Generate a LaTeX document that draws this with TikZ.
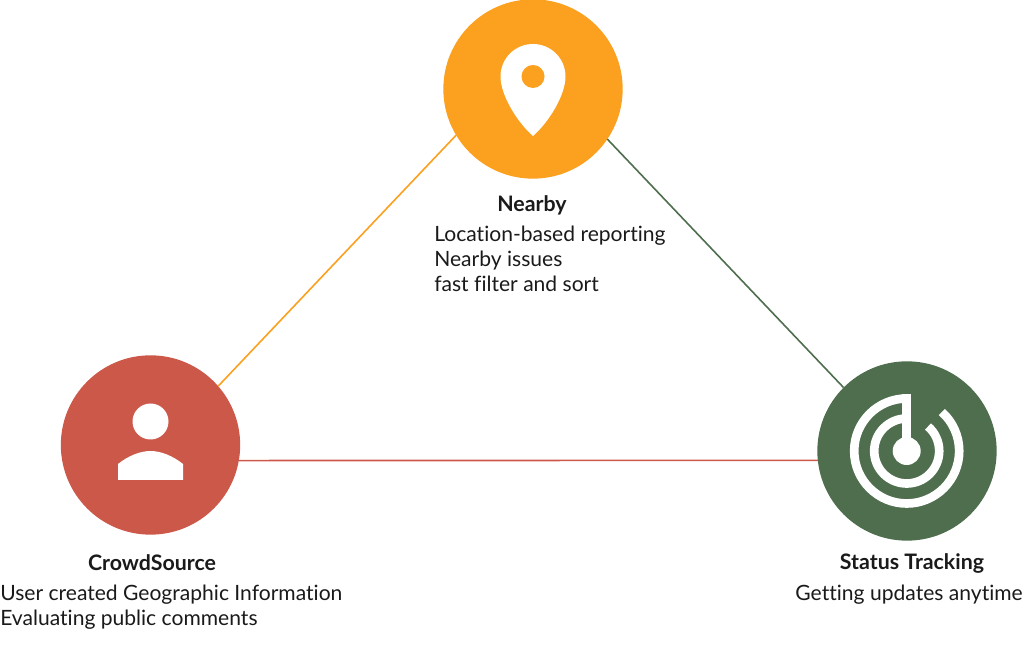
\documentclass[tikz,border=0pt]{standalone}
\usepackage{fontspec}
\setmainfont[Ligatures=NoCommon]{Lato}
\definecolor{pinorange}{HTML}{FBA01F}
\definecolor{crowdred}{HTML}{CC5849}
\definecolor{trackgreen}{HTML}{4E6E4E}
\definecolor{inkblack}{HTML}{1A1A1A}
\tikzset{
	hub/.style={circle,fill=#1,minimum size=134.5pt,inner sep=0pt,outer sep=0pt},
	link/.style={draw=#1,line width=1.2pt},
	title/.style={font=\fontsize{16}{18.75}\selectfont\bfseries,text=inkblack,inner sep=0pt},
	body/.style={font=\fontsize{15.8}{18.75}\selectfont,text=inkblack,inner sep=0pt,align=left},
	ring/.style={draw=white,line width=6.5pt}
}
\begin{document}
\begin{tikzpicture}[x=0.75pt,y=0.75pt]
		\useasboundingbox (0,0) rectangle (1024,655);
		% circles
		\node[hub=pinorange] (nearby) at (533,566) {};
		\node[hub=crowdred] (crowd) at (150.5,210) {};
		\node[hub=trackgreen] (status) at (907,204) {};
		% connectors
		\draw[link=pinorange] (crowd.41) -- (nearby.211);
		\draw[link=trackgreen] (nearby.-34) -- (status.135);
		\draw[link=crowdred] (crowd.-10.56) -- (status.186.7);
		% pin icon
		\fill[white] (533,519) .. controls (517,533) and (500.5,560) .. (500.5,578.5)
			arc[start angle=180,end angle=0,radius=32.5] .. controls (565.5,560) and (549,533) .. (533,519) -- cycle;
		\fill[pinorange] (533,578.5) circle[radius=11.5];
		% person icon
		\fill[white] (150.5,233.5) circle[radius=18];
		\fill[white] (118,175) -- (118,191) .. controls (128,199) and (140,204) .. (150.5,204)
			.. controls (161,204) and (173,199) .. (183,191) -- (183,175) -- cycle;
		% radar icon
		\fill[white] (906.7,204) circle[radius=14];
		\draw[ring] (906.7,256.5) arc[start angle=90,end angle=408,radius=52.5];
		\draw[ring] (906.7,236.5) arc[start angle=90,end angle=409,radius=32.5];
		\draw[white,line width=6.5pt] (906.7,261) -- (906.7,204);
		% labels
		\node[title] (nearbytitle) at (532,450) {Nearby};
		\node[body,anchor=north west] (nearbytext) at (434,429) {Location-based reporting\\Nearby issues\\fast filter and sort};
		\node[title] (crowdtitle) at (152,92) {CrowdSource};
		\node[body,anchor=north west] (crowdtext) at (0,70) {User created Geographic Information\\Evaluating public comments};
		\node[title] (statustitle) at (912,91) {Status Tracking};
		\node[body,anchor=north east] (statustext) at (1023,70) {Getting updates anytime};
\end{tikzpicture}
\end{document}
